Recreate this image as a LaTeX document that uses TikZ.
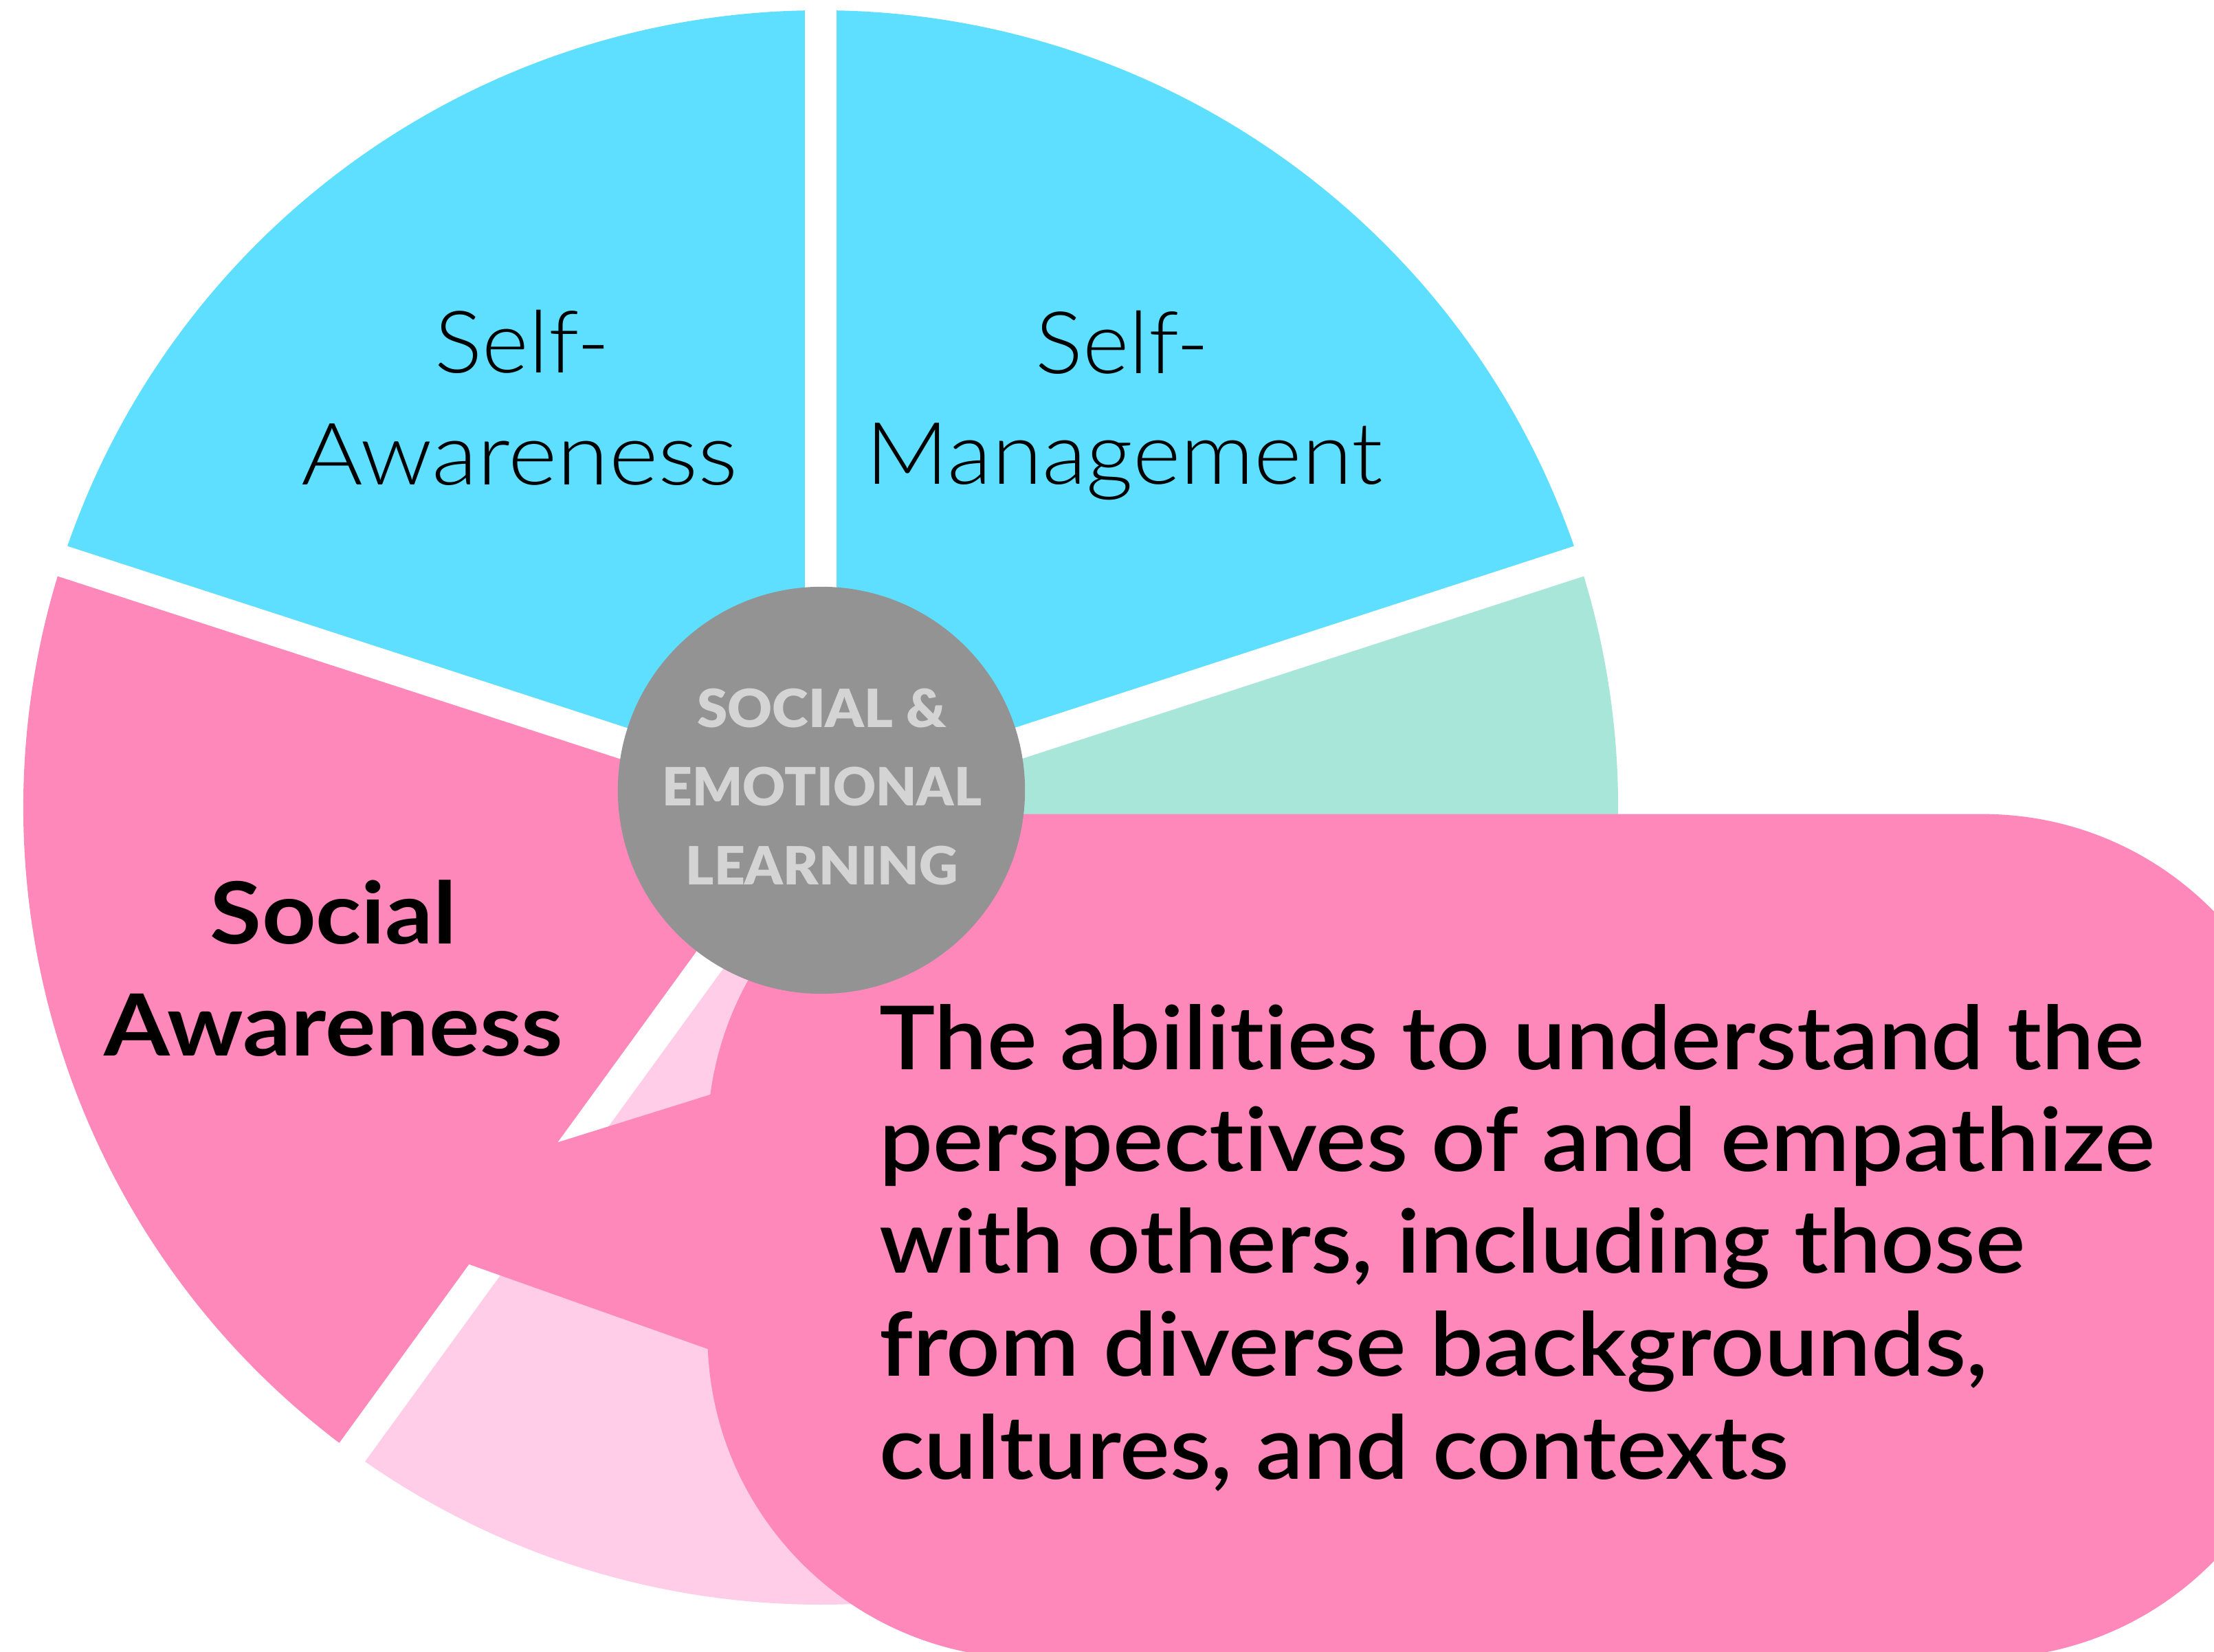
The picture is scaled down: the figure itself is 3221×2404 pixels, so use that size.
\documentclass[tikz,border=0pt]{standalone}
\usepackage{fontspec}
\usepackage{graphicx}
\setmainfont{Lato}[Ligatures=NoCommon]
\IfFontExistsTF{Lato Light}{\newfontfamily\mylight{Lato Light}[Ligatures=NoCommon]}{\newcommand\mylight{\normalfont}}
\IfFontExistsTF{Lato Semibold}{\newfontfamily\mysemi{Lato Semibold}[Ligatures=NoCommon]}{\newcommand\mysemi{\bfseries}}
\IfFontExistsTF{Lato Black}{\newfontfamily\myblack{Lato Black}[Ligatures=NoCommon]}{\newcommand\myblack{\bfseries}}
\definecolor{cyanc}{RGB}{94,223,255}
\definecolor{mintc}{RGB}{168,230,218}
\definecolor{pinkc}{RGB}{255,136,187}
\definecolor{lpinkc}{RGB}{255,205,231}
\definecolor{grayc}{RGB}{147,147,147}
\definecolor{ltextc}{RGB}{212,212,212}
\newcommand{\fitw}[2]{\resizebox{#1}{\height}{#2}}
\tikzset{
  lbl/.style={inner sep=0pt, outer sep=0pt, text=black},
  gapline/.style={white, line width=0.46cm, line cap=butt},
}
\begin{document}
\begin{tikzpicture}[x=0.01cm,y=-0.01cm]
\useasboundingbox (0,0) rectangle (3221,2404);
\clip (0,0) rectangle (3221,2404);
\coordinate (O) at (1194,1175);
% pie sectors (visual angles negated because y is flipped)
\fill[cyanc]  (O) -- +(-90:1160)  arc[start angle=-90,  end angle=-162, radius=1160] -- cycle;
\fill[cyanc]  (O) -- +(-18:1160)  arc[start angle=-18,  end angle=-90,  radius=1160] -- cycle;
\fill[mintc]  (O) -- +(54:1160)   arc[start angle=54,   end angle=-18,  radius=1160] -- cycle;
\fill[lpinkc] (O) -- +(126:1160)  arc[start angle=126,  end angle=54,   radius=1160] -- cycle;
\fill[pinkc]  (O) -- +(198:1160)  arc[start angle=198,  end angle=126,  radius=1160] -- cycle;
% white gaps
\foreach \a in {-90,-18,54,126,198} \draw[gapline] (O) -- +(\a:1250);
% callout tail
\coordinate (tip) at (477,1767);
\fill[pinkc] (tip) -- (1100,1572) -- (1100,1988) -- cycle;
% callout
\node[fill=pinkc, rounded corners=4.7cm, minimum width=23.24cm, minimum height=12.28cm, inner sep=0pt] (callout) at (2192,1799) {};
% centre circle
\node[circle, fill=grayc, minimum size=5.92cm, inner sep=0pt] (sel) at (1195,1150) {};
% labels
\node[lbl, anchor=base] (sa1) at (760,543) {\fitw{2.54cm}{\mylight\fontsize{35.7}{40}\selectfont Self-}};
\node[lbl, anchor=base] (sa2) at (756,706) {\fitw{6.35cm}{\mylight\fontsize{35.7}{40}\selectfont Awareness}};
\node[lbl, anchor=base] (sm1) at (1633,543.6) {\fitw{2.53cm}{\mylight\fontsize{35.7}{40}\selectfont Self-}};
\node[lbl, anchor=base] (sm2) at (1636,705) {\fitw{7.52cm}{\mylight\fontsize{35.7}{40}\selectfont Management}};
\node[lbl, anchor=base] (so1) at (485,1373.5) {\fitw{3.58cm}{\bfseries\fontsize{35.5}{40}\selectfont Social}};
\node[lbl, anchor=base] (so2) at (485.5,1536.7) {\fitw{6.67cm}{\bfseries\fontsize{35.5}{40}\selectfont Awareness}};
\node[lbl, anchor=base, text=ltextc] (c1) at (1195.5,1058) {\fitw{3.62cm}{\myblack\fontsize{21.8}{24}\selectfont SOCIAL \&}};
\node[lbl, anchor=base, text=ltextc] (c2) at (1196,1172.3) {\fitw{4.64cm}{\myblack\fontsize{21.8}{24}\selectfont EMOTIONAL}};
\node[lbl, anchor=base, text=ltextc] (c3) at (1196,1287) {\fitw{3.96cm}{\myblack\fontsize{21.8}{24}\selectfont LEARNING}};
\node[lbl, anchor=base west] (t1) at (1279,1556) {\fitw{18.39cm}{\mysemi\fontsize{36.5}{40}\selectfont The abilities to understand the}};
\node[lbl, anchor=base west] (t2) at (1279,1704.6) {\fitw{18.55cm}{\mysemi\fontsize{36.5}{40}\selectfont perspectives of and empathize}};
\node[lbl, anchor=base west] (t3) at (1279,1852.8) {\fitw{16.66cm}{\mysemi\fontsize{36.5}{40}\selectfont with others, including those}};
\node[lbl, anchor=base west] (t4) at (1279,2002.6) {\fitw{16.12cm}{\mysemi\fontsize{36.5}{40}\selectfont from diverse backgrounds,}};
\node[lbl, anchor=base west] (t5) at (1279,2152.4) {\fitw{13.23cm}{\mysemi\fontsize{36.5}{40}\selectfont cultures, and contexts}};
\end{tikzpicture}
\end{document}
